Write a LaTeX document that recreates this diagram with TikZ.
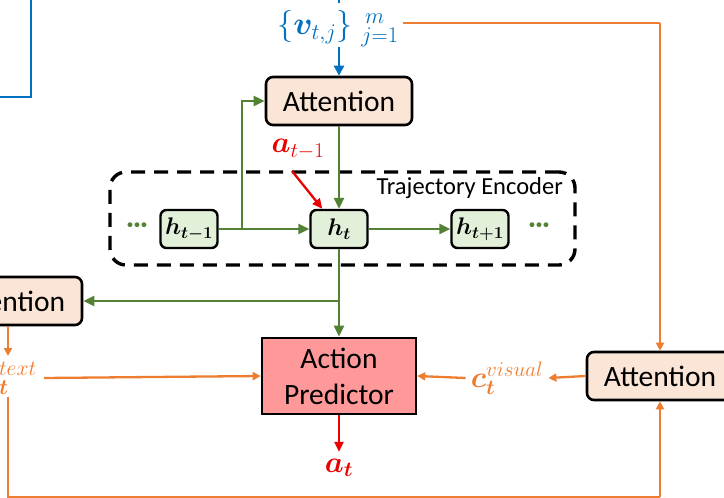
\RequirePackage{fix-cm}
\documentclass[tikz,border=0pt]{standalone}
\usepackage{amsmath,bm}
\usepackage{fontspec}
\setmainfont{Carlito}
\usetikzlibrary{arrows.meta}

\definecolor{ugreen}{RGB}{84,130,53}
\definecolor{uorange}{RGB}{237,125,49}
\definecolor{ublue}{RGB}{0,112,192}
\definecolor{ured}{RGB}{235,0,0}
\definecolor{peach}{RGB}{251,229,214}
\definecolor{lgreen}{RGB}{226,240,217}
\definecolor{pinkred}{RGB}{255,153,153}

\begin{document}
\begin{tikzpicture}[x=1pt,y=-1pt,
  attbox/.style={draw=black, line width=2.6pt, rounded corners=7pt, fill=peach,
    minimum width=146pt, minimum height=48pt, inner sep=0pt,
    font=\fontsize{29.5}{32}\selectfont},
  hbox/.style={draw=black, line width=2.4pt, rounded corners=6pt, fill=lgreen,
    minimum width=57pt, minimum height=38pt, inner sep=0pt,
    font=\fontsize{24}{28}\selectfont},
  predbox/.style={draw=black, line width=2.6pt, fill=pinkred,
    minimum width=154pt, minimum height=76pt, inner sep=0pt, align=center,
    font=\fontsize{29.5}{36}\selectfont},
  mathlabel/.style={inner sep=0pt, font=\fontsize{30}{34}\selectfont},
  dotsmark/.style={text=ugreen, inner sep=0pt, font=\fontsize{26}{28}\selectfont\bfseries},
  garrow/.style={draw=ugreen, line width=2.4pt, -{Triangle[length=11pt,width=10pt]}},
  oarrow/.style={draw=uorange, line width=2.3pt, -{Triangle[length=8pt,width=8pt]}},
  oline/.style={draw=uorange, line width=2.3pt},
  rarrow/.style={draw=ured, line width=2.3pt, -{Triangle[length=10pt,width=9pt]}},
  barrow/.style={draw=ublue, line width=2.4pt, -{Triangle[length=10pt,width=10pt]}},
  encbox/.style={draw=black, line width=3.4pt, dash pattern=on 14pt off 9pt,
    rounded corners=16pt, minimum width=465pt, minimum height=93pt, inner sep=0pt},
]
\useasboundingbox (0,0) rectangle (724,498);

% partially visible frame on the upper left
\draw[ublue, line width=2.6pt] (31,-5) -- (31,97) -- (-5,97);

% trajectory encoder frame and its hidden states
\node[encbox] (enc) at (342.5,218.5) {};
\node[inner sep=0pt, font=\fontsize{24.5}{28}\selectfont, anchor=east] (enclab) at (563,188) {Trajectory Encoder};
\node[hbox] (hprev) at (189,229) {$\boldsymbol{h_{t-1}}$};
\node[hbox] (hcur) at (339,229) {$\boldsymbol{h_{t}}$};
\node[hbox] (hnext) at (480,229) {$\boldsymbol{h_{t+1}}$};
\node[dotsmark] (dl) at (137,228) {···};
\node[dotsmark] (dr) at (539,228) {···};

% attention modules and the predictor
\node[attbox] (topAtt) at (339,101) {Attention};
\node[attbox] (leftAtt) at (9,301) {Attention};
\node[attbox] (rightAtt) at (660,376) {Attention};
\node[predbox] (pred) at (339,376) {Action\\Predictor};

% labels
\node[mathlabel, text=ublue, font=\fontsize{32}{36}\selectfont] (vlab) at (338,29) {$\{\boldsymbol{v}_{t,j}\}\;{}_{j=1}^{\,m}$};
\node[mathlabel, text=ured] (atm1) at (298,149) {$\boldsymbol{a}_{t-1}$};
\node[mathlabel, text=ured] (at) at (339,468) {$\boldsymbol{a}_{\boldsymbol{t}}$};
\node[mathlabel, text=uorange, anchor=east, font=\fontsize{31}{34}\selectfont] (ctext) at (37,378) {$\boldsymbol{c}_{\boldsymbol{t}}^{text}$};
\node[mathlabel, text=uorange] (cvis) at (507,378) {$\boldsymbol{c}_{\boldsymbol{t}}^{visual}$};

% junctions and free ends
\coordinate (jn) at (242,229);
\coordinate (jd) at (339,301);
\coordinate (vtop) at (339,-6);
\coordinate (otop) at (660,23);
\coordinate (obl) at (8,497);
\coordinate (obr) at (660,497);

% blue feature input
\draw[ublue, line width=2.4pt] (vtop) -- (339,3);
\draw[barrow] (vlab.south -| topAtt.north) -- (topAtt.north);

% green recurrent connections
\draw[garrow] (hprev) -- (hcur);
\draw[garrow] (jn) |- (topAtt.west);
\draw[garrow] (topAtt.south) -- (hcur.north);
\draw[garrow] (hcur) -- (hnext);
\draw[garrow] (hcur.south) -- (pred.north);
\draw[garrow] (jd) -- (leftAtt.east |- jd);

% red action connections
\draw[rarrow] ([xshift=-6pt,yshift=-12pt]atm1.south) -- ([xshift=13pt]hcur.north west);
\draw[rarrow] (pred.south) -- ([yshift=7pt]at.north);

% orange context connections
\draw[oarrow] ([xshift=-1pt]leftAtt.south) -- ([xshift=-1pt]leftAtt.south |- 0,356);
\draw[oarrow] ([xshift=7pt]ctext.east) -- (pred.west);
\draw[oarrow] (rightAtt.west) -- ([xshift=5pt]cvis.east);
\draw[oarrow] ([xshift=-5pt]cvis.west) -- (pred.east);
\draw[oline] ([xshift=4pt]vlab.east |- otop) -- (otop);
\draw[oarrow] (otop) -- (rightAtt.north);
\draw[oline] (obl |- 0,397) -- (obl) -- (obr);
\draw[oarrow] (obr) -- (rightAtt.south);
\end{tikzpicture}
\end{document}
